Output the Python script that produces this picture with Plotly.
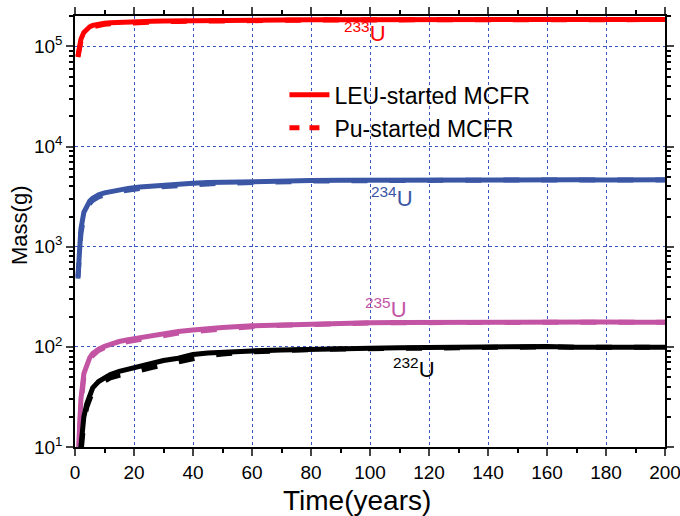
import plotly.graph_objects as go

# ---------------- data ----------------
t = [1, 2, 3, 4, 5, 6, 8, 10, 12, 15, 18, 22, 26, 30, 35, 40, 45, 50, 60, 70,
     80, 90, 100, 110, 120, 130, 140, 150, 160, 170, 180, 190, 200]

u233_leu = [80000, 118000, 138000, 150000, 157000, 162000, 167000, 170000, 172000, 174000,
            176000, 177000, 178000, 179000, 180000, 181000, 181500, 182000, 183000, 183500,
            184000, 184500, 185000, 185000, 185500, 185000, 185500, 185500, 185000, 185500,
            185500, 185000, 185500]
u233_pu = [78000, 112000, 132000, 144000, 152000, 157000, 163000, 166000, 168000, 170000,
           172000, 173500, 175000, 176000, 177500, 178500, 179500, 180000, 181500, 182500,
           183000, 183500, 184000, 184500, 184500, 184500, 185000, 184500, 185000, 185000,
           184500, 185000, 185000]

u234_leu = [500, 1500, 2200, 2600, 2850, 3050, 3300, 3450, 3550, 3700,
            3820, 3950, 4050, 4130, 4220, 4300, 4360, 4400, 4480, 4530,
            4570, 4600, 4620, 4630, 4640, 4640, 4650, 4640, 4650, 4650,
            4640, 4650, 4650]
u234_pu = [480, 1350, 2000, 2450, 2700, 2900, 3150, 3300, 3420, 3560,
           3680, 3800, 3900, 3990, 4080, 4160, 4230, 4290, 4390, 4460,
           4510, 4550, 4580, 4600, 4610, 4620, 4630, 4630, 4640, 4640,
           4630, 4640, 4640]

u235_leu = [7, 30, 54, 68, 78, 86, 95, 101, 106, 113,
            118, 124, 130, 136, 142, 147, 152, 156, 162, 166,
            170, 172, 174, 175, 176, 176, 177, 176, 177, 176,
            177, 176, 176]
u235_pu = [6, 26, 50, 64, 74, 82, 92, 98, 103, 109,
           113, 119, 125, 130, 137, 142, 147, 152, 159, 164,
           168, 171, 173, 174, 175, 175, 176, 176, 176, 176,
           176, 176, 176]

u232_leu = [5, 11, 20, 27, 34, 39, 45, 49, 53, 57,
            60, 64, 68, 73, 77, 84, 87, 89, 91, 93,
            95, 96, 97, 98, 99, 98, 99, 100, 101, 99,
            100, 99, 99]
u232_pu = [4, 9, 18, 25, 31, 36, 42, 46, 49, 52,
           55, 58, 62, 66, 70, 76, 81, 85, 89, 92,
           94, 95, 96, 97, 98, 98, 99, 99, 100, 99,
           99, 99, 99]

series_names = ["LEU-started MCFR", "Pu-started MCFR"]
x_ticks = [0, 20, 40, 60, 80, 100, 120, 140, 160, 180, 200]
x_minor = [10, 30, 50, 70, 90, 110, 130, 150, 170, 190]
y_ticks = [10, 100, 1000, 10000, 100000]
y_ticktext = ["10<sup>1</sup>", "10<sup>2</sup>", "10<sup>3</sup>", "10<sup>4</sup>", "10<sup>5</sup>"]
y_minor = [m * d for d in [10, 100, 1000, 10000, 100000] for m in range(2, 10)]
x_title = "Time(years)"
y_title = "Mass(g)"

labels = [("233", "U", 98.3, 5.145, "#ff0000"),
          ("234", "U", 107.4, 3.50, "#3a56a5"),
          ("235", "U", 105.4, 2.39, "#c354a4"),
          ("232", "U", 114.9, 1.79, "#000000")]

# ---------------- figure ----------------
FONT = "Arial, Liberation Sans, sans-serif"
RED, BLUE, PINK, BLACK = "#ff0000", "#3a56a5", "#c354a4", "#000000"
DASH = "16px,22px"
LW = 5

fig = go.Figure()
pairs = [(u233_leu, u233_pu, RED), (u234_leu, u234_pu, BLUE),
         (u235_leu, u235_pu, PINK), (u232_leu, u232_pu, BLACK)]
for leu, pu, col in pairs:
    fig.add_trace(go.Scatter(x=t, y=leu, mode="lines", name=series_names[0],
                             line=dict(color=col, width=LW), showlegend=False))
    fig.add_trace(go.Scatter(x=t, y=pu, mode="lines", name=series_names[1],
                             line=dict(color=col, width=LW, dash=DASH), showlegend=False))

# legend entries (legend-only samples)
fig.add_trace(go.Scatter(x=[None], y=[None], mode="lines", name=series_names[0],
                         line=dict(color=RED, width=LW)))
fig.add_trace(go.Scatter(x=[None], y=[None], mode="lines", name=series_names[1],
                         line=dict(color=RED, width=LW, dash="10px,10px")))

for sup, base, lx, ly, col in labels:
    fig.add_annotation(x=lx, y=ly, xref="x", yref="y", text=f"<sup>{sup}</sup>{base}",
                       showarrow=False, font=dict(family=FONT, size=22, color=col))

# axis titles as annotations for exact placement
fig.add_annotation(x=0.478, y=-0.123, xref="paper", yref="paper", text=x_title,
                   showarrow=False, xanchor="center", yanchor="middle",
                   font=dict(family=FONT, size=28, color="black"))
fig.add_annotation(x=-0.095, y=0.515, xref="paper", yref="paper", text=y_title,
                   showarrow=False, xanchor="center", yanchor="middle", textangle=-90,
                   font=dict(family=FONT, size=22, color="black"))

grid_col = "#3a56c0"
fig.update_xaxes(range=[0, 200], tickvals=x_ticks, ticks="outside", ticklen=7, tickwidth=1.5,
                 showline=True, linecolor="black", linewidth=1.5, mirror="ticks",
                 showgrid=True, gridcolor=grid_col, gridwidth=1, griddash="dot",
                 minor=dict(tickvals=x_minor, ticks="outside", ticklen=4,
                            tickwidth=1.5, tickcolor="black", showgrid=False),
                 tickfont=dict(family=FONT, size=19, color="black"),
                 ticklabeloverflow="allow",
                 automargin=False, zeroline=False)
fig.update_yaxes(type="log", range=[1, 5.303], tickvals=y_ticks, ticktext=y_ticktext,
                 ticks="outside", ticklen=7, tickwidth=1.5,
                 showline=True, linecolor="black", linewidth=1.5, mirror="ticks",
                 showgrid=True, gridcolor=grid_col, gridwidth=1, griddash="dot",
                 minor=dict(tickvals=y_minor, ticks="outside", ticklen=4, tickwidth=1.5,
                            tickcolor="black", showgrid=False),
                 tickfont=dict(family=FONT, size=19, color="black"),
                 ticklabeloverflow="allow",
                 automargin=False, zeroline=False)

fig.update_layout(
    width=680, height=516,
    margin=dict(l=75, r=15, t=16, b=69),
    plot_bgcolor="white", paper_bgcolor="white",
    legend=dict(x=0.355, y=0.867, xanchor="left", yanchor="top",
                bgcolor="rgba(0,0,0,0)", font=dict(family=FONT, size=23, color="black"),
                tracegroupgap=0, itemwidth=40),
)

fig.write_html("out.html", config={"displayModeBar": False},
               post_script="document.body.style.margin='0';document.body.style.overflow='hidden';")
